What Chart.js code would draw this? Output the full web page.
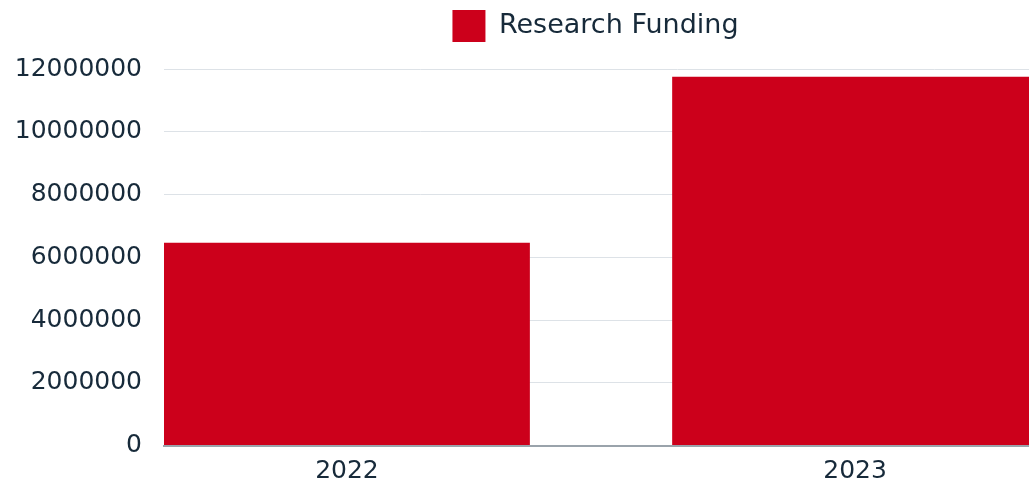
<!DOCTYPE html>
<html>
<head>
<meta charset="utf-8">
<script src="https://cdn.jsdelivr.net/npm/chart.js@4/dist/chart.umd.min.js"></script>
<style>
  html, body { margin: 0; padding: 0; background: #fff; overflow: hidden; }
  #wrap { width: 1191px; height: 487px; position: relative; }
</style>
</head>
<body>
<div id="wrap"><canvas id="fundingChart"></canvas></div>
<script>
const years = [2022, 2023];
const funding = [6460000, 11750000];
const seriesLabel = 'Research Funding';
const yMax = 12000000;
const yStep = 2000000;

const red = '#cc001b';
const ink = '#172a3a';
const font = { family: "'DejaVu Sans', sans-serif", size: 25 };

// leave a gap between the legend and the plot area
const legendGap = {
  id: 'legendGap',
  beforeInit(chart) {
    const fit = chart.legend.fit;
    chart.legend.fit = function () {
      fit.call(this);
      this.height += 17;
    };
  }
};

const chartData = {
  datasets: [{
    label: seriesLabel,
    data: years.map((yr, i) => ({ x: yr, y: funding[i] })),
    backgroundColor: red,
    borderWidth: 0
  }]
};

const config = {
  type: 'bar',
  data: chartData,
  plugins: [legendGap],
  options: {
    responsive: true,
    maintainAspectRatio: false,
    animation: false,
    layout: { padding: 0 },
    plugins: {
      legend: {
        position: 'top',
        labels: {
          color: ink,
          font: { family: font.family, size: 27 },
          boxWidth: 33,
          boxHeight: 32,
          padding: 10
        }
      },
      tooltip: { enabled: false }
    },
    scales: {
      x: {
        type: 'linear',
        offset: false,
        min: 2021.64,
        max: 2023.661,
        afterBuildTicks: (scale) => {
          scale.ticks = years.map(v => ({ value: v }));
        },
        afterFit: (scale) => { scale.height = 41.5; },
        ticks: {
          color: ink,
          font: font,
          padding: 11,
          callback: (v) => String(v)
        },
        grid: { display: false, drawTicks: false },
        border: { display: true, color: '#9aa3ab', width: 2 }
      },
      y: {
        min: 0,
        max: yMax,
        afterFit: (scale) => { scale.width = 164; },
        ticks: {
          stepSize: yStep,
          color: ink,
          font: font,
          padding: 22,
          callback: (v) => String(v)
        },
        grid: { color: '#dde2e7', lineWidth: 1, drawTicks: false },
        border: { display: false }
      }
    }
  }
};

new Chart(document.getElementById('fundingChart'), config);
</script>
</body>
</html>
